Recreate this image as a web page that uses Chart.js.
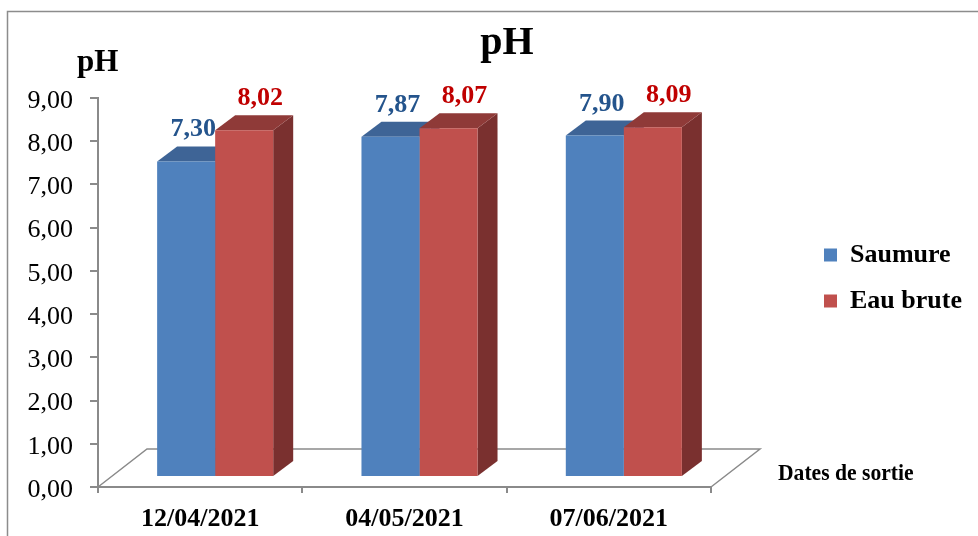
<!DOCTYPE html>
<html>
<head>
<meta charset="utf-8">
<script src="https://cdn.jsdelivr.net/npm/chart.js@4.4.1/dist/chart.umd.min.js"></script>
<style>
  html, body { margin: 0; padding: 0; background: #fff; }
  #wrap { position: relative; width: 978px; height: 536px; }
</style>
</head>
<body>
<div id="wrap"><canvas id="c" width="978" height="536"></canvas></div>
<script>
// Sampling dates and measured pH
const dates = ['12/04/2021', '04/05/2021', '07/06/2021'];
const saumure = [7.30, 7.87, 7.90];
const eauBrute = [8.02, 8.07, 8.09];
const yTicks = [0, 1, 2, 3, 4, 5, 6, 7, 8, 9];

const SERIF = "'Liberation Serif', 'Times New Roman', serif";
const AXIS_GREY = '#8a8a8a';

// Oblique depth used for the 3D look
const BAR_SHIFT = { x: 15, y: -10 };   // bars sit a little behind the front wall
const BAR_DEPTH = { x: 20, y: -15 };
const FLOOR_DEPTH = { x: 49, y: -38 };

const faceColors = [
  { top: '#3E6496', side: '#2F5280' },
  { top: '#8F3A38', side: '#7A302F' }
];
const labelColors = ['#24548C', '#C00000'];
const labelDx = [7, 16];

const fmt = v => v.toFixed(2).replace('.', ',');

const threeD = {
  id: 'threeD',
  beforeDraw(chart) {
    const ctx = chart.ctx;
    ctx.save();
    ctx.strokeStyle = '#8c8c8c';
    ctx.lineWidth = 1.5;
    ctx.strokeRect(7.5, 11.5, 1200, 800);
    ctx.restore();
  },
  afterLayout(chart) {
    // place the legend to the right of the plot, and centre the title over the frame
    const lg = chart.legend;
    if (lg) {
      lg.left = 804; lg.top = 222; lg.width = 174; lg.height = 300;
      lg.right = lg.left + lg.width; lg.bottom = lg.top + lg.height;
    }
    const t = chart.titleBlock;
    if (t) { t.left = 36; t.right = 978; t.width = 942; }
  },
  beforeDatasetsDraw(chart) {
    const ctx = chart.ctx;
    const a = chart.chartArea;
    // floor outline
    ctx.save();
    ctx.strokeStyle = AXIS_GREY;
    ctx.lineWidth = 1.5;
    ctx.beginPath();
    ctx.moveTo(a.left, a.bottom);
    ctx.lineTo(a.left + FLOOR_DEPTH.x, a.bottom + FLOOR_DEPTH.y);
    ctx.lineTo(a.right + FLOOR_DEPTH.x, a.bottom + FLOOR_DEPTH.y);
    ctx.lineTo(a.right, a.bottom);
    ctx.stroke();
    ctx.restore();

    ctx.save();
    ctx.translate(BAR_SHIFT.x, BAR_SHIFT.y);
    // top and side faces, painted behind every front face
    chart.data.datasets.forEach((ds, di) => {
      const meta = chart.getDatasetMeta(di);
      meta.data.forEach(el => {
        const p = el.getProps(['x', 'y', 'base', 'width'], true);
        const l = p.x - p.width / 2, r = p.x + p.width / 2;
        const dx = BAR_DEPTH.x, dy = BAR_DEPTH.y;
        ctx.fillStyle = faceColors[di].side;
        ctx.beginPath();
        ctx.moveTo(r, p.y); ctx.lineTo(r + dx, p.y + dy);
        ctx.lineTo(r + dx, p.base + dy); ctx.lineTo(r, p.base);
        ctx.closePath(); ctx.fill();
        ctx.fillStyle = faceColors[di].top;
        ctx.beginPath();
        ctx.moveTo(l, p.y); ctx.lineTo(l + dx, p.y + dy);
        ctx.lineTo(r + dx, p.y + dy); ctx.lineTo(r, p.y);
        ctx.closePath(); ctx.fill();
      });
    });
  },
  afterDatasetsDraw(chart) {
    const ctx = chart.ctx;
    ctx.restore();
    // value labels above each bar
    ctx.save();
    ctx.font = 'bold 26px ' + SERIF;
    ctx.textAlign = 'center';
    ctx.textBaseline = 'alphabetic';
    chart.data.datasets.forEach((ds, di) => {
      const meta = chart.getDatasetMeta(di);
      meta.data.forEach((el, i) => {
        const p = el.getProps(['x', 'y'], true);
        ctx.fillStyle = labelColors[di];
        ctx.fillText(fmt(ds.data[i]), p.x + BAR_SHIFT.x + labelDx[di], p.y + BAR_SHIFT.y + BAR_DEPTH.y - 10);
      });
    });
    ctx.restore();
  },
  afterDraw(chart) {
    const ctx = chart.ctx;
    ctx.save();
    ctx.fillStyle = '#000';
    ctx.textBaseline = 'alphabetic';
    ctx.textAlign = 'left';
    ctx.font = 'bold 31px ' + SERIF;
    ctx.fillText('pH', 77, 71);
    // axis caption, in a condensed bold face
    ctx.translate(778, 480);
    ctx.scale(0.9, 1);
    ctx.font = 'bold 24px ' + SERIF;
    ctx.fillText('Dates de sortie', 0, 0);
    ctx.restore();
  }
};

new Chart(document.getElementById('c'), {
  type: 'bar',
  data: {
    labels: dates,
    datasets: [
      { label: 'Saumure', data: saumure, backgroundColor: '#4F81BD', borderWidth: 0,
        categoryPercentage: 0.568, barPercentage: 1.0, clip: false },
      { label: 'Eau brute', data: eauBrute, backgroundColor: '#C0504D', borderWidth: 0,
        categoryPercentage: 0.568, barPercentage: 1.0, clip: false }
    ]
  },
  options: {
    responsive: false,
    animation: false,
    events: [],
    layout: { padding: { left: 0, right: 267, top: 0, bottom: 0 } },
    plugins: {
      title: {
        display: true,
        text: 'pH',
        color: '#000',
        font: { family: SERIF, size: 40, weight: 'bold' },
        padding: { top: 19.5, bottom: 30.5 }
      },
      legend: {
        display: true,
        position: 'chartArea',
        align: 'start',
        labels: {
          boxWidth: 13,
          boxHeight: 13,
          padding: 20,
          color: '#000',
          font: { family: SERIF, size: 26, weight: 'bold' }
        }
      },
      tooltip: { enabled: false }
    },
    scales: {
      x: {
        afterFit(s) { s.height = 49; },
        grid: { display: true, drawOnChartArea: false, drawTicks: true, tickLength: 6,
                color: AXIS_GREY, lineWidth: 2, offset: true },
        border: { display: true, color: AXIS_GREY, width: 2 },
        ticks: { color: '#000', padding: 11, font: { family: SERIF, size: 26, weight: 'bold' } }
      },
      y: {
        min: 0,
        max: 9,
        afterFit(s) { s.width = 98; },
        afterBuildTicks(s) { s.ticks = yTicks.map(v => ({ value: v })); },
        grid: { display: true, drawOnChartArea: false, drawTicks: true, tickLength: 8,
                color: AXIS_GREY, lineWidth: 2 },
        border: { display: true, color: AXIS_GREY, width: 2 },
        ticks: {
          color: '#000',
          padding: 17,
          labelOffset: 3,
          font: { family: SERIF, size: 26 },
          callback: v => fmt(v)
        }
      }
    }
  },
  plugins: [threeD]
});
</script>
</body>
</html>
